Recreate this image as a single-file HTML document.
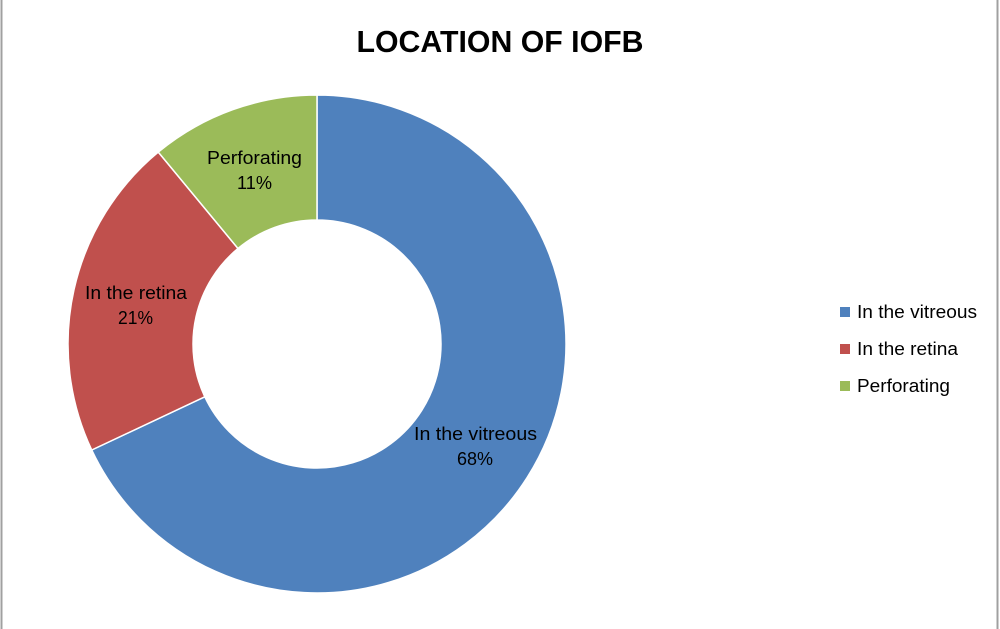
<!DOCTYPE html>
<html><head><meta charset="utf-8"><style>
html,body{margin:0;padding:0;background:#fff;}
svg{display:block;}
text{font-family:"Liberation Sans",sans-serif;}
</style></head><body>
<svg width="1000" height="629" viewBox="0 0 1000 629" xmlns="http://www.w3.org/2000/svg">
<rect x="0" y="0" width="1000" height="629" fill="#fff"/>
<line x1="1.5" y1="0" x2="1.5" y2="629" stroke="#a0a0a0" stroke-width="2"/>
<line x1="997.5" y1="0" x2="997.5" y2="629" stroke="#a0a0a0" stroke-width="2"/>
<text x="500" y="52" text-anchor="middle" font-size="31" font-weight="bold" textLength="287" lengthAdjust="spacingAndGlyphs" fill="#000">LOCATION OF IOFB</text>
<g stroke="#fff" stroke-width="1.5">
<path d="M317,95 A249,249 0 1 1 91.7,450 L204.8,396.8 A124,124 0 1 0 317,220 Z" fill="#4f81bd"/>
<path d="M91.7,450 A249,249 0 0 1 158.3,152.1 L238,248.5 A124,124 0 0 0 204.8,396.8 Z" fill="#c0504d"/>
<path d="M158.3,152.1 A249,249 0 0 1 317,95 L317,220 A124,124 0 0 0 238,248.5 Z" fill="#9bbb59"/>
</g>
<g font-size="18" fill="#000" lengthAdjust="spacingAndGlyphs">
<text x="207" y="164" textLength="95" lengthAdjust="spacingAndGlyphs">Perforating</text>
<text x="237" y="189" textLength="35" lengthAdjust="spacingAndGlyphs">11%</text>
<text x="85" y="299" textLength="102" lengthAdjust="spacingAndGlyphs">In the retina</text>
<text x="118" y="324" textLength="35" lengthAdjust="spacingAndGlyphs">21%</text>
<text x="414" y="440" textLength="123" lengthAdjust="spacingAndGlyphs">In the vitreous</text>
<text x="457" y="465" textLength="36" lengthAdjust="spacingAndGlyphs">68%</text>
</g>
<rect x="840" y="307" width="10" height="10" fill="#4f81bd"/>
<rect x="840" y="344" width="10" height="10" fill="#c0504d"/>
<rect x="840" y="381" width="10" height="10" fill="#9bbb59"/>
<g font-size="18" fill="#000">
<text x="857" y="318" textLength="120" lengthAdjust="spacingAndGlyphs">In the vitreous</text>
<text x="857" y="355" textLength="101" lengthAdjust="spacingAndGlyphs">In the retina</text>
<text x="857" y="392" textLength="93" lengthAdjust="spacingAndGlyphs">Perforating</text>
</g>
</svg>
</body></html>
